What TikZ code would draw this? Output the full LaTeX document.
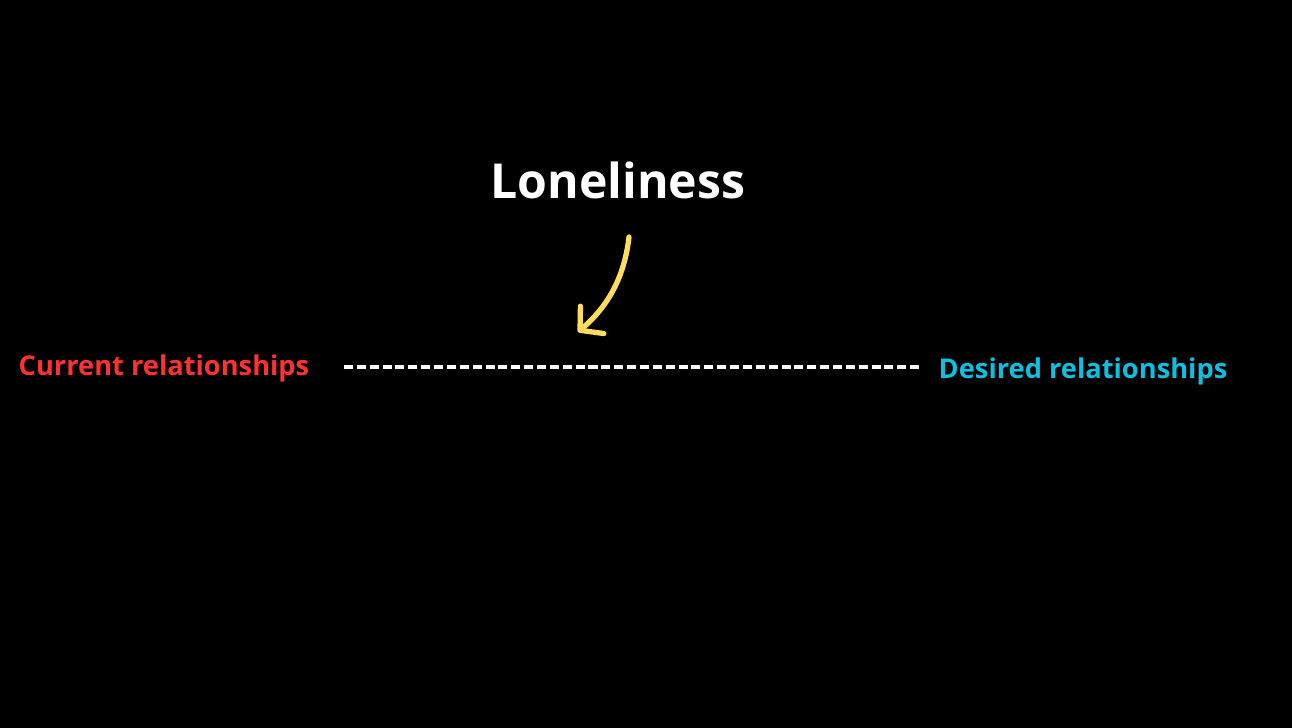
\documentclass[tikz,border=0pt]{standalone}
\usepackage{fontspec}
\setmainfont{Open Sans}
\usepackage{tikz}
\usetikzlibrary{arrows.meta}
\usepackage{xcolor}
\definecolor{curred}{HTML}{FF3131}
\definecolor{descyan}{HTML}{0CC0DF}
\definecolor{gold}{HTML}{FFDE59}

\begin{document}
\begin{tikzpicture}[
  x=0.01cm,y=-0.01cm,
  title/.style={font=\fontsize{13.7pt}{15pt}\selectfont\bfseries,text=white,inner sep=0pt},
  endlabel/.style={font=\fontsize{7.75pt}{9pt}\selectfont\bfseries,inner sep=0pt},
  gap/.style={white,line width=0.95pt,dash pattern=on 0.09cm off 0.0386cm},
  pointer/.style={gold,line width=1.5pt,line cap=round,
                  -{Straight Barb[length=1.6mm,width=3.6mm,round]}},
]
% ---------- background ----------
\fill[black] (0,0) rectangle (1292,728);
\useasboundingbox (0,0) rectangle (1292,728);
% ---------- labels ----------
\node[title] (lone) at (618,180) {Loneliness};
\node[endlabel,text=curred,anchor=west] (cur) at (18,368) {Current relationships};
\node[endlabel,text=descyan,anchor=west] (des) at (938,371) {Desired relationships};
% ---------- gap between the two ----------
\coordinate (gapl) at (344,367);
\coordinate (gapr) at (919,367);
\draw[gap] (gapl) -- (gapr);
% ---------- arrow ----------
\coordinate (astart) at (629,237);
\coordinate (atip) at (578,332);
\draw[pointer] (astart) .. controls (624,280) and (606,308) .. (atip);
\end{tikzpicture}
\end{document}
